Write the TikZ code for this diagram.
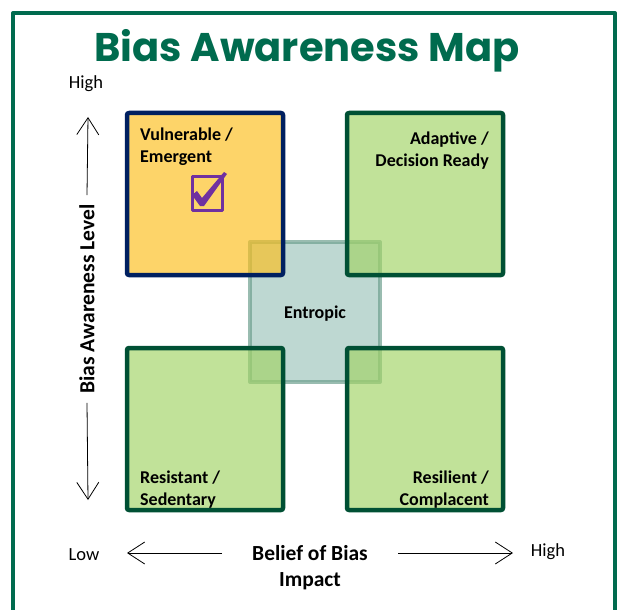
\documentclass[tikz,border=0pt]{standalone}
\usepackage{fontspec}
\setmainfont{Carlito}
\newfontfamily\titlefont{Poppins}
\usetikzlibrary{arrows.meta}
\definecolor{mapgreen}{RGB}{0,107,78}
\definecolor{navyline}{RGB}{0,32,96}
\definecolor{darkline}{RGB}{0,80,52}
\definecolor{yellowfill}{RGB}{252,191,30}
\definecolor{greenfill}{RGB}{162,211,102}
\definecolor{entropicfill}{RGB}{190,216,210}
\definecolor{entropicline}{RGB}{110,160,142}
\definecolor{tickpurple}{RGB}{112,48,160}
\begin{document}
\begin{tikzpicture}[x=1pt,y=-1pt, line join=round,
	quad/.style={line width=4.5pt, rounded corners=2pt},
	quadfill/.style={fill opacity=0.667, rounded corners=2pt},
	lbl/.style={font=\fontsize{18}{21.5}\selectfont\bfseries, inner sep=0pt},
	axlbl/.style={font=\fontsize{21.5}{26}\selectfont\bfseries, align=center},
	endlbl/.style={font=\fontsize{18.5}{20}\selectfont},
	ax/.style={-{Straight Barb[length=17pt,width=22pt]}, line width=0.8pt}]
	\clip (0,0) rectangle (619,610);
	\path
	(127,113) coordinate (TL)
	(347,113) coordinate (TR)
	(127,348) coordinate (BL)
	(347,348) coordinate (BR)
	(250,242) coordinate (E)
	;
	\draw[mapgreen, line width=4pt] (13,13) rectangle (615,650);
	\node[mapgreen, anchor=base, font=\titlefont\bfseries\fontsize{40}{40}\selectfont] (title) at (307,62) {Bias Awareness Map};
	% middle square first, the quadrants lie over it
	\draw[line width=4pt, fill=entropicfill, draw=entropicline, draw opacity=0.7] (E) rectangle +(130,140);
	\fill[yellowfill, quadfill] (TL) rectangle +(156,162);
	\foreach \q in {TR,BL,BR}
	\fill[greenfill, quadfill] (\q) rectangle +(156,162);
	\draw[quad, navyline] (TL) rectangle +(156,162);
	\foreach \q in {TR,BL,BR}
	\draw[quad, darkline] (\q) rectangle +(156,162);
	\node[lbl] (entropic) at (315,314) {Entropic};
	\node[lbl, anchor=north west, align=left] (vuln) at (140,128) {Vulnerable /\\Emergent};
	\node[lbl, anchor=north east, align=right] (adapt) at (489,132) {Adaptive /\\Decision Ready};
	\node[lbl, anchor=north west, align=left] (resist) at (140,471) {Resistant /\\Sedentary};
	\node[lbl, anchor=north east, align=right] (resil) at (489,471) {Resilient /\\Complacent};
	% check box
	\draw[tickpurple, line width=3pt] (192,176) rectangle (222,210);
	\fill[tickpurple] (192,195) -- (197,191) -- (202,198) -- (224,172) -- (227,174) -- (204,206) -- (200,206) -- cycle;
	% axes
	\node[endlbl] (vhigh) at (86,84) {High};
	\node[endlbl] (hlow) at (84,555) {Low};
	\node[endlbl] (hhigh) at (548,552) {High};
	\node[axlbl, rotate=90, inner sep=9pt] (vaxis) at (87,299) {Bias Awareness Level};
	\node[axlbl] (haxis) at (310,568) {Belief of Bias\\Impact};
	\path
	(88,117) coordinate (vtop)
	(88,500) coordinate (vbot)
	(222,553) coordinate (hl)
	(127,553) coordinate (hlend)
	(398,553) coordinate (hr)
	(513,553) coordinate (hrend)
	;
	\draw[ax] (vaxis.east) -- (vtop);
	\draw[ax] (vaxis.west) -- (vbot);
	\draw[ax] (hl) -- (hlend);
	\draw[ax] (hr) -- (hrend);
\end{tikzpicture}
\end{document}
